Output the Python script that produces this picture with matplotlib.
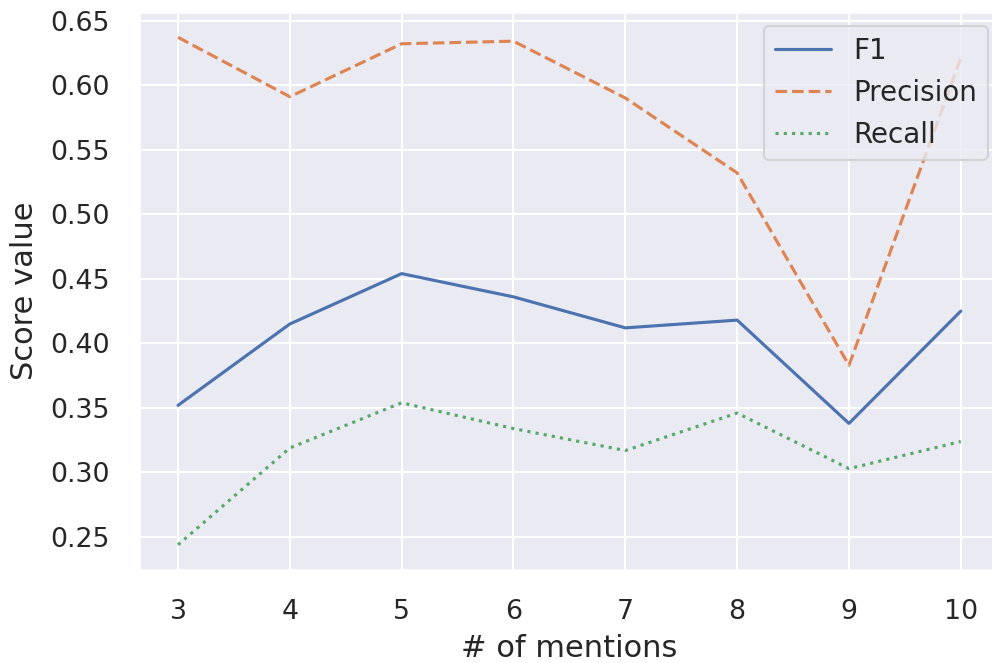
import numpy as np
import seaborn as sns
from matplotlib import pyplot as plt

mentions = [3, 4, 5, 6, 7, 8, 9, 10]
f1 = [0.352, 0.415, 0.454, 0.436, 0.412, 0.418, 0.338, 0.425]
precision = [0.637, 0.591, 0.632, 0.634, 0.590, 0.532, 0.383, 0.621]
recall = [0.244, 0.319, 0.354, 0.334, 0.317, 0.346, 0.303, 0.324]

sns.set_theme(style='darkgrid', context='talk')
plt.rcParams.update({
    'xtick.labelsize': 19.25,
    'ytick.labelsize': 19.25,
    'axes.labelsize': 22,
    'legend.fontsize': 20,
    'xtick.major.pad': 12,
    'ytick.major.pad': 12,
    'lines.linewidth': 2.25,
    'grid.linewidth': 1.5,
})

fig, ax = plt.subplots(figsize=(9.92, 6.63), dpi=100)
ax.plot(mentions, f1, label='F1', linestyle='-')
ax.plot(mentions, precision, label='Precision', linestyle='--')
ax.plot(mentions, recall, label='Recall', linestyle=':')
ax.set_xlabel('# of mentions', labelpad=6)
ax.set_ylabel('Score value', labelpad=8)
ax.legend(loc='upper right', bbox_to_anchor=(1.002, 1.0))

plt.subplots_adjust(left=0.140, right=1.008, top=0.982, bottom=0.140)
plt.savefig('out.png')
